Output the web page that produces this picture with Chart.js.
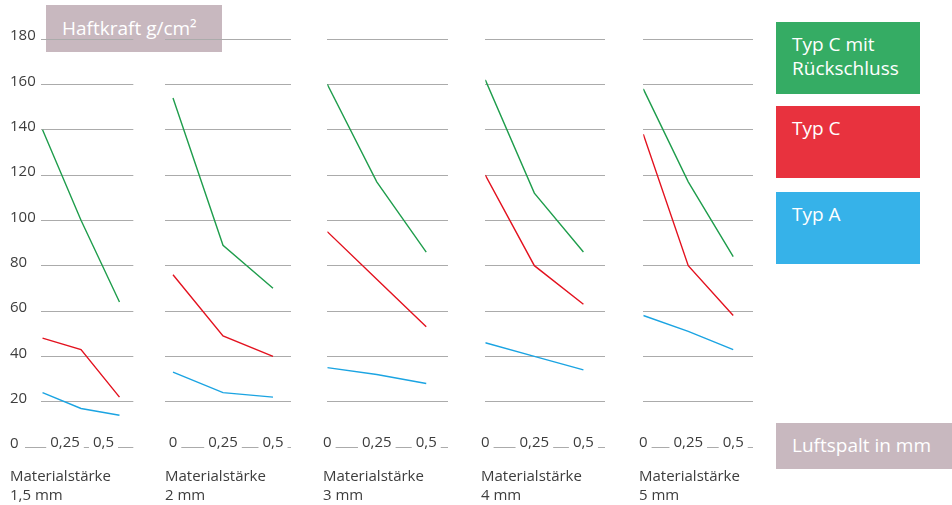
<!DOCTYPE html>
<html lang="de">
<head>
<meta charset="utf-8">
<title>Haftkraft</title>
<script src="https://cdn.jsdelivr.net/npm/chart.js@4.4.1/dist/chart.umd.min.js"></script>
<style>
  body {
    margin: 0;
    width: 952px;
    height: 505px;
    position: relative;
    overflow: hidden;
    background: #fff;
    font-family: 'Open Sans', sans-serif;
  }
  .panel { position: absolute; top: 0; height: 505px; z-index: 1; }
  .tag {
    position: absolute;
    box-sizing: border-box;
    background: #c8b8bf;
    color: #fff;
    font-size: 19px;
    line-height: 24px;
    padding: 10px 16px;
    z-index: 0;
  }
  .legend-box {
    position: absolute;
    left: 776px;
    width: 144px;
    height: 72px;
    box-sizing: border-box;
    padding: 10px 16px;
    color: #fff;
    font-size: 19px;
    line-height: 24px;
  }
</style>
</head>
<body>
<div class="tag" style="left:46px; top:5px; width:176px; height:47px; padding-top:11px;">Haftkraft g/cm²</div>
<div class="tag" style="left:776px; top:423px; width:176px; height:46px;">Luftspalt in mm</div>
<div id="legend"></div>

<script>
// Luftspalt (mm) and their printed labels
const xValues = [0, 0.25, 0.5];
const xTickLabels = ['0', '0,25', '0,5'];

const panelNames = ['1,5 mm', '2 mm', '3 mm', '4 mm', '5 mm'];
const seriesNames = ['Typ C mit Rückschluss', 'Typ C', 'Typ A'];

// Haftkraft g/cm² per panel (Materialstärke), one row per panel
const typCRueckschluss = [
  [140, 100, 64],
  [154, 89, 70],
  [160, 117, 86],
  [162, 112, 86],
  [158, 117, 84],
];
const typC = [
  [48, 43, 22],
  [76, 49, 40],
  [95, 74, 53],
  [120, 80, 63],
  [138, 80, 58],
];
const typA = [
  [24, 17, 14],
  [33, 24, 22],
  [35, 32, 28],
  [46, 40, 34],
  [58, 51, 43],
];
const series = [typCRueckschluss, typC, typA];

const lineColors = ['#1f9d4c', '#e3121f', '#1ba4e2'];
const boxColors = ['#35ac64', '#e8323e', '#36b2e9'];
const textColor = '#3d3d3d';
const gridColor = '#ababab';
const font = { family: "'Open Sans', sans-serif", size: 15 };

// layout of the five small charts
const panelLeft = [10, 161, 319, 477, 635];
const panelWidth = [124, 130, 129, 128, 118];
const xMin = [-0.01, -0.04, 0, 0, 0];
const xMax = [0.59, 0.59, 0.61, 0.61, 0.61];
const labelShift = [-16, 0, 0, 0, 0];
const legendTops = [22, 106, 192];

// legend boxes
const legend = document.getElementById('legend');
seriesNames.forEach((name, k) => {
  const box = document.createElement('div');
  box.className = 'legend-box';
  box.style.top = legendTops[k] + 'px';
  box.style.background = boxColors[k];
  box.textContent = name;
  legend.appendChild(box);
});

function makePanel(i) {
  const first = i === 0;
  const wrap = document.createElement('div');
  wrap.className = 'panel';
  wrap.style.left = panelLeft[i] + 'px';
  wrap.style.width = panelWidth[i] + 'px';
  const canvas = document.createElement('canvas');
  wrap.appendChild(canvas);
  document.body.appendChild(wrap);

  new Chart(canvas, {
    type: 'line',
    data: {
      labels: xValues,
      datasets: series.map((s, k) => ({
        label: seriesNames[k],
        data: s[i],
        borderColor: lineColors[k],
        borderWidth: 1.4,
        pointRadius: 0,
        tension: 0,
      })),
    },
    options: {
      responsive: true,
      maintainAspectRatio: false,
      animation: false,
      layout: { padding: { top: 39, left: first ? 0 : 4, right: 0, bottom: 0 } },
      plugins: {
        legend: { display: false },
        tooltip: { enabled: false },
        title: {
          display: true,
          position: 'bottom',
          align: 'start',
          text: ['Materialstärke', panelNames[i]],
          color: textColor,
          font: { ...font, weight: 'normal', lineHeight: '19px' },
          padding: { top: 16, bottom: 0 },
        },
      },
      scales: {
        x: {
          type: 'linear',
          min: xMin[i],
          max: xMax[i],
          afterBuildTicks: (axis) => {
            // first panel shares its "0" with the y axis
            axis.ticks = xValues
              .filter((v) => !(first && v === 0))
              .map((v) => ({ value: v }));
          },
          // labels sit on the zero line, so the axis takes no extra room
          afterFit: (s) => { s.height = 4; },
          grid: { display: false },
          border: { display: false },
          ticks: {
            mirror: true,
            padding: 4,
            crossAlign: 'center',
            labelOffset: labelShift[i],
            autoSkip: false,
            maxRotation: 0,
            showLabelBackdrop: true,
            backdropColor: '#ffffff',
            backdropPadding: { x: 4, y: 2 },
            color: textColor,
            font: font,
            callback: (v) => xTickLabels[xValues.indexOf(v)],
          },
        },
        y: {
          min: 0,
          max: 180,
          afterFit: first ? (s) => { s.width = 31; } : undefined,
          border: { display: false },
          grid: {
            color: gridColor,
            lineWidth: 1,
            drawTicks: first,
            tickLength: 16,
            tickColor: (ctx) => (ctx.tick && ctx.tick.value === 0 ? gridColor : 'rgba(0,0,0,0)'),
          },
          ticks: {
            display: first,
            stepSize: 20,
            crossAlign: 'far',
            labelOffset: -3,
            color: textColor,
            font: font,
          },
        },
      },
    },
  });
}

for (let i = 0; i < panelNames.length; i++) {
  makePanel(i);
}
</script>
</body>
</html>
